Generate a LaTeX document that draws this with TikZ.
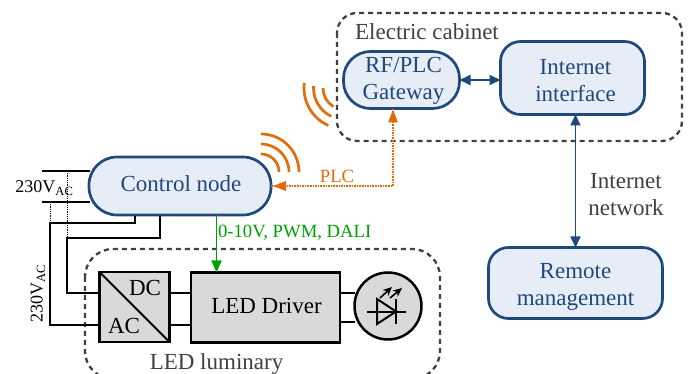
\documentclass[tikz,border=0pt]{standalone}
\usepackage{fontspec}
\setmainfont{Liberation Serif}
\usetikzlibrary{arrows.meta,calc}
\definecolor{bluefill}{HTML}{E6EDF7}
\definecolor{blueline}{HTML}{1F497D}
\definecolor{greyfill}{HTML}{D9D9D9}
\definecolor{orangeline}{HTML}{E36C0A}
\definecolor{greenline}{HTML}{00A000}
\definecolor{dashgrey}{HTML}{404040}
\tikzset{
  x=1pt,y=-1pt,
  every node/.style={inner sep=0pt,outer sep=0pt,align=center,font=\fontsize{23}{27}\selectfont},
  bluebox/.style={draw=blueline,line width=2.7pt,fill=bluefill,rounded corners=#1},
  bluetext/.style={text=blueline},
  greybox/.style={draw=black,line width=2.5pt,fill=greyfill},
  group/.style={draw=dashgrey,line width=2.3pt,dash pattern=on 5pt off 4pt,rounded corners=#1},
  grouplabel/.style={text=dashgrey},
  wire/.style={draw=black,line width=1.6pt},
  thick wire/.style={draw=black,line width=2.5pt},
  blue link/.style={draw=blueline,line width=1.7pt,{Triangle[length=11pt,width=10pt]}-{Triangle[length=11pt,width=10pt]}},
  wave/.style={draw=orangeline,line width=2.7pt},
  plc/.style={draw=orangeline,line width=1.6pt,densely dotted},
}
\begin{document}
\begin{tikzpicture}
\useasboundingbox (0,0) rectangle (689,374);
\clip (0,0) rectangle (689,374);
% groups
\draw[group=20pt] (337,13) rectangle (682,141);
\draw[group=28pt] (85,249) rectangle (440,379);
\node[grouplabel] (cablabel) at (427,31.5) {Electric cabinet};
\node[grouplabel] (lumlabel) at (216.5,364) {LED luminary};
% blue boxes
\node[bluebox=28pt,minimum width=182pt,minimum height=58pt] (ctrl) at (180,186) {};
\node[bluetext] (ctrltext) at (181,184) {Control node};
\node[bluebox=27pt,minimum width=116pt,minimum height=57pt] (gw) at (401.5,80) {};
\node[bluetext] (gwtext) at (403.5,81) {RF/PLC\\Gateway};
\node[bluebox=20pt,minimum width=144pt,minimum height=73pt] (inet) at (572.5,78) {};
\node[bluetext] (inettext) at (575.5,81) {Internet\\interface};
\node[bluebox=20pt,minimum width=174pt,minimum height=71pt] (remote) at (575.5,283) {};
\node[bluetext] (remotetext) at (575.5,286.5) {Remote\\management};
\node[text=dashgrey] (netlabel) at (626,194.5) {Internet\\network};
% grey boxes
\node[greybox,minimum width=70pt,minimum height=70pt] (conv) at (134.5,307) {};
\node (dc) at (145,288) {DC};
\node (ac) at (124,326) {AC};
\node[greybox,minimum width=149pt,minimum height=70pt] (drv) at (265.5,307.5) {};
\node (drvtext) at (266.5,306) {LED Driver};
\node[greybox,circle,minimum size=67pt] (lamp) at (388,306) {};
\draw[line width=1.8pt] (conv.north west) -- (conv.south east);
% mains
\coordinate (mainsA) at (42,171);
\coordinate (mainsB) at (42,202);
\coordinate (ctrlA) at (90,171);
\coordinate (ctrlB) at (90,202);
\draw[thick wire] (mainsA) -- (ctrlA);
\draw[thick wire] (mainsB) -- (ctrlB);
\node (vtop) at (44.5,188) {\fontsize{18}{20}\selectfont 230V\textsubscript{AC}};
\node[rotate=90] (vside) at (38,293.5) {\fontsize{18}{20}\selectfont 230V\textsubscript{AC}};
% dotted + solid mains wires
\coordinate (tapA) at (67,171);
\coordinate (tapB) at (50,202);
\coordinate (kneeA) at (67,238);
\coordinate (kneeB) at (50,223);
\draw[line width=.8pt,densely dotted] (tapA) -- (kneeA);
\draw[line width=.8pt,densely dotted] (tapB) -- (kneeB);
\coordinate (outA) at (160,216);
\coordinate (outB) at (135,216);
\draw[wire] (outA) -- (outA |- kneeA) -- (kneeA) -- (67,293) -- (conv.west |- 0,293);
\draw[wire] (outB) -- (outB |- kneeB) -- (kneeB) -- (50,325) -- (conv.west |- 0,325);
% driver wires
\draw[thick wire] (conv.east |- 0,293) -- (drv.west |- 0,293);
\draw[thick wire] (conv.east |- 0,325) -- (drv.west |- 0,325);
\draw[thick wire] (drv.east |- 0,293) -- (lamp.west |- 0,293);
\draw[thick wire] (drv.east |- 0,322) -- (lamp.west |- 0,322);
% LED symbol
\draw[line width=2pt,line join=miter] (377,299) -- (377,324) -- (396,311.5) -- cycle;
\draw[line width=2pt] (396,299) -- (396,324);
\draw[line width=2pt] (367,312) -- (406,312);
\draw[line width=1.6pt,-{Stealth[length=9pt,width=8pt]}] (380,298) -- (392,287);
\draw[line width=1.6pt,-{Stealth[length=9pt,width=8pt]}] (390,298) -- (402,288);
% links
\draw[blue link] (gw.east) -- (inet.west |- gw.east);
\draw[blue link] (inet.south -| remote.north) -- (remote.north);
% control signal
\draw[draw=greenline,line width=1.7pt,-{Triangle[length=12pt,width=10pt]}] (ctrl.south -| 216.5,0) -- (drv.north -| 216.5,0);
\node[text=greenline,anchor=west,font=\fontsize{18.7}{22}\selectfont] (sig) at (218,233) {0-10V, PWM, DALI};
% PLC
\coordinate (plcknee) at (393,186);
\draw[plc] (ctrl.east) -- (plcknee) -- (gw.south -| plcknee);
\fill[orangeline] (ctrl.east) ++(2,0) -- ++(13,-5) -- ++(0,10) -- cycle;
\fill[orangeline] (gw.south -| plcknee) ++(0,1) -- ++(-5,13) -- ++(10,0) -- cycle;
\node[text=orangeline,font=\fontsize{18.7}{22}\selectfont] (plclabel) at (337,176.5) {PLC};
% waves
\coordinate (wa) at (261,172);
\coordinate (wb) at (345,88);
\draw[wave] (wa) ++(90:38pt) arc[start angle=90,end angle=0,radius=38pt];
\draw[wave] (wa) ++(90:28pt) arc[start angle=90,end angle=0,radius=28pt];
\draw[wave] (wa) ++(90:18pt) arc[start angle=90,end angle=0,radius=18pt];
\draw[wave] (wb) ++(173:41pt) arc[start angle=173,end angle=246,radius=41pt];
\draw[wave] (wb) ++(176:31.5pt) arc[start angle=176,end angle=244,radius=31.5pt];
\draw[wave] (wb) ++(180:22pt) arc[start angle=180,end angle=238,radius=22pt];
\end{tikzpicture}
\end{document}
